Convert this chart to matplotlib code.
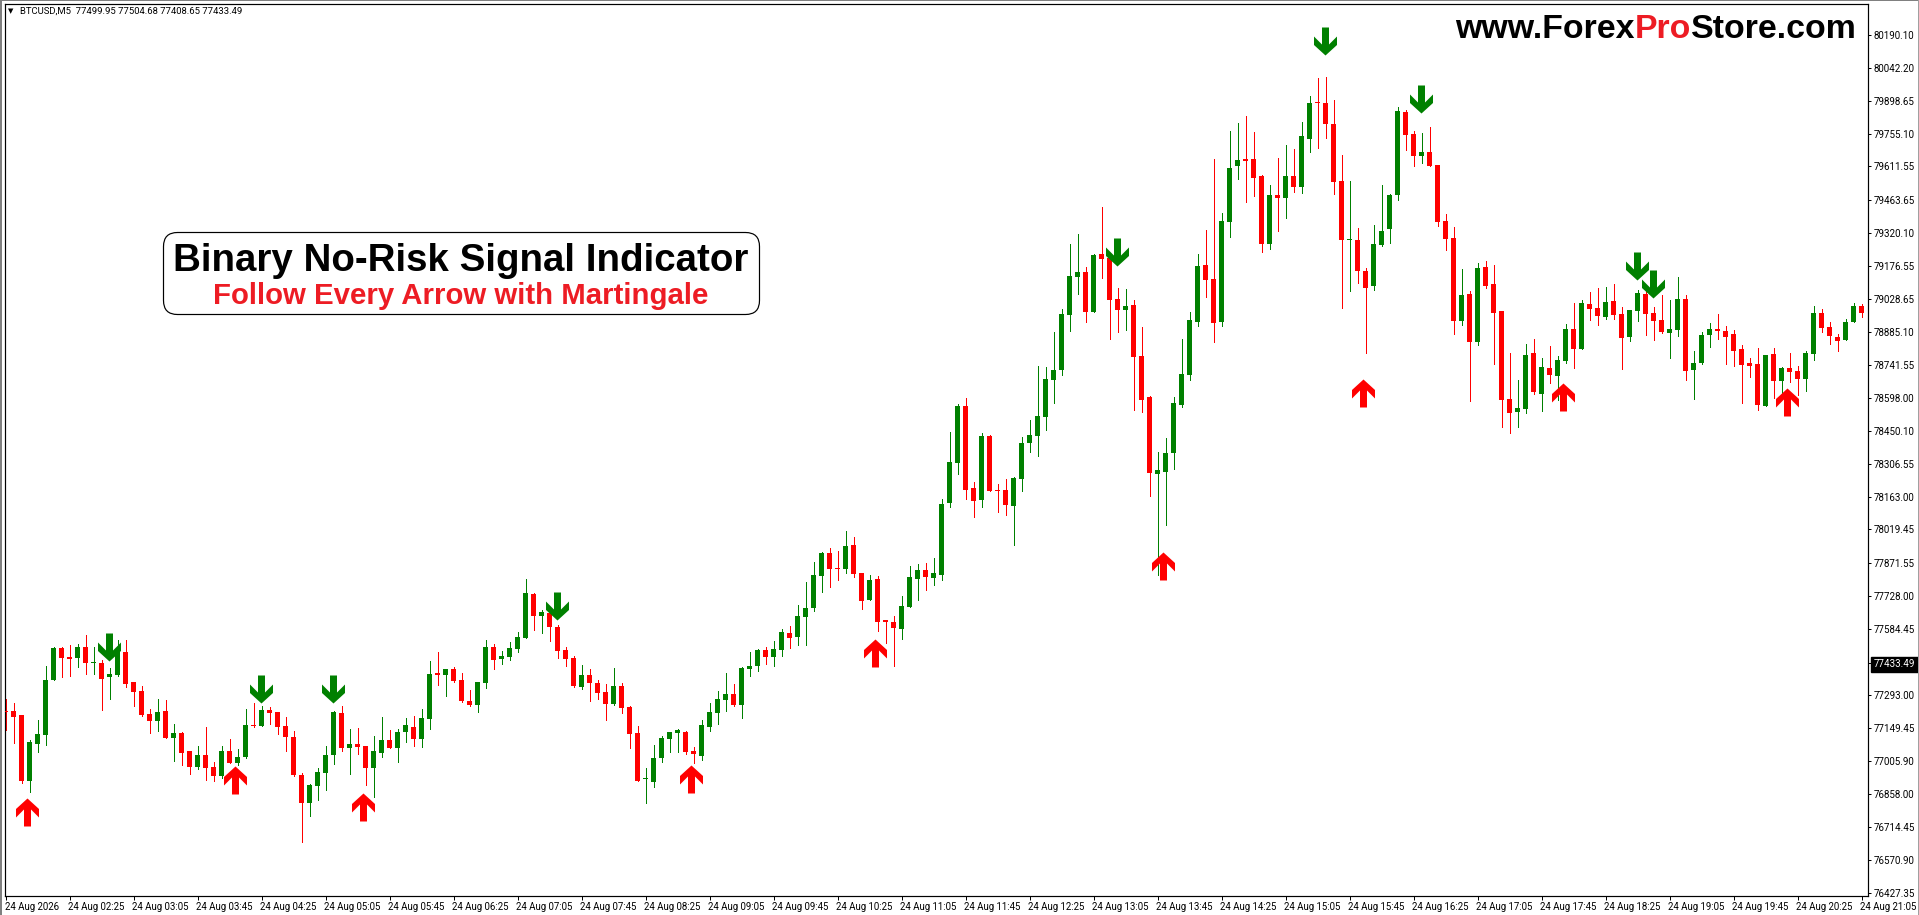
"""
BTCUSD M5 candles with buy / sell arrows - MT4 style screenshot
"""

import matplotlib
matplotlib.use('Agg')
import matplotlib.pyplot as plt
from matplotlib.patches import FancyBboxPatch, Rectangle
from matplotlib.transforms import Affine2D, ScaledTranslation

# candles, oldest first
opens = [
    77223, 77222, 77204, 76918, 77080, 77120, 77361, 77498, 77459, 77457,
    77503, 77435, 77432, 77374, 77383, 77481, 77349, 77310, 77209, 77181,
    77222, 77106, 77125, 77046, 76979, 77029, 76976, 76940, 77046, 76997,
    77023, 77160, 77159, 77226, 77217, 77156, 77108, 76941, 76821, 76896,
    76953, 77029, 77213, 77062, 77077, 77068, 76975, 77041, 77095, 77062,
    77133, 77152, 77102, 77190, 77389, 77383, 77406, 77358, 77266, 77251,
    77348, 77503, 77453, 77462, 77497, 77545, 77735, 77641, 77652, 77590,
    77489, 77454, 77330, 77380, 77345, 77305, 77255, 77332, 77239, 77125,
    76927, 76913, 77019, 77102, 77128, 77130, 77046, 77027, 77155, 77216,
    77273, 77296, 77251, 77409, 77422, 77489, 77462, 77492, 77564, 77549,
    77637, 77676, 77817, 77915, 77850, 77848, 77950, 77827, 77709, 77801,
    77621, 77612, 77581, 77681, 77804, 77842, 77808, 77821, 78137, 78312,
    78561, 78200, 78150, 78429, 78192, 78191, 78124, 78242, 78400, 78431,
    78514, 78676, 78720, 78961, 79128, 79147, 78975, 79226, 79210, 79029,
    78983, 79002, 78779, 78599, 78264, 78273, 78356, 78567, 78698, 78931,
    79178, 79116, 78931, 79369, 79615, 79643, 79643, 79568, 79273, 79485,
    79474, 79568, 79523, 79733, 79893, 79888, 79796, 79546, 79290, 79287,
    79151, 79089, 79267, 79339, 79488, 79849, 79752, 79659, 79673, 79616,
    79371, 79296, 78935, 79051, 78843, 79169, 79094, 78976, 78590, 78536,
    78549, 78792, 78615, 78726, 78694, 78760, 78897, 78812, 79007, 78989,
    78953, 79020, 78963, 78865, 78979, 79051, 78967, 78937, 78882, 78896,
    79029, 78720, 78751, 78871, 78897, 78888, 78875, 78809, 78748, 78744,
    78562, 78788, 78672, 78726, 78713, 78681, 78790, 78967, 78906, 78862,
    78852, 78929, 78998,
]
highs = [
    77274, 77257, 77206, 77095, 77182, 77419, 77503, 77503, 77511, 77516,
    77555, 77503, 77445, 77410, 77533, 77533, 77349, 77331, 77231, 77274,
    77270, 77165, 77130, 77046, 77068, 77152, 76998, 77068, 77099, 77055,
    77231, 77257, 77244, 77239, 77217, 77196, 77134, 76950, 76902, 76972,
    77068, 77222, 77244, 77143, 77147, 77068, 77112, 77196, 77139, 77143,
    77191, 77200, 77231, 77441, 77481, 77406, 77415, 77389, 77314, 77349,
    77533, 77516, 77485, 77524, 77568, 77801, 77739, 77665, 77674, 77599,
    77503, 77463, 77424, 77406, 77358, 77340, 77410, 77345, 77244, 77156,
    76972, 77073, 77112, 77130, 77143, 77134, 77064, 77182, 77257, 77310,
    77389, 77340, 77415, 77481, 77494, 77503, 77529, 77581, 77595, 77687,
    77788, 77875, 77919, 77937, 77924, 78011, 77985, 77827, 77818, 77814,
    77621, 77638, 77726, 77858, 77867, 77871, 77893, 78152, 78445, 78568,
    78595, 78226, 78441, 78435, 78217, 78239, 78248, 78423, 78499, 78735,
    78730, 78884, 78985, 79270, 79314, 79169, 79226, 79432, 79223, 79077,
    79073, 79024, 78906, 78603, 78358, 78419, 78599, 78853, 78972, 79226,
    79331, 79643, 79406, 79766, 79801, 79831, 79761, 79572, 79529, 79647,
    79704, 79686, 79805, 79919, 79998, 80002, 79901, 79660, 79546, 79340,
    79165, 79353, 79529, 79489, 79871, 79858, 79765, 79757, 79783, 79616,
    79401, 79344, 79160, 79064, 79186, 79195, 79178, 78976, 78792, 78673,
    78831, 78853, 78770, 78823, 78779, 78919, 79011, 79024, 79059, 79077,
    79081, 79094, 78994, 78980, 79068, 79077, 78994, 79046, 79024, 79125,
    79046, 78801, 78884, 78923, 78963, 78910, 78893, 78827, 78770, 78814,
    78783, 78814, 78730, 78792, 78735, 78801, 78998, 78985, 78928, 78875,
    78941, 79011, 79007,
]
lows = [
    77140, 77084, 76906, 76870, 77044, 77074, 77361, 77374, 77378, 77418,
    77387, 77387, 77229, 77277, 77378, 77330, 77247, 77203, 77128, 77137,
    77106, 77005, 76988, 76948, 76970, 76922, 76918, 76931, 76997, 76988,
    77019, 77155, 77159, 77168, 77124, 77049, 76940, 76650, 76764, 76834,
    76878, 76992, 77049, 76948, 77036, 76900, 76848, 77023, 77062, 77001,
    77089, 77071, 77067, 77146, 77339, 77291, 77352, 77261, 77247, 77220,
    77326, 77409, 77431, 77448, 77484, 77545, 77580, 77567, 77532, 77457,
    77422, 77330, 77321, 77269, 77277, 77185, 77251, 77216, 77063, 76918,
    76818, 76892, 77001, 77045, 77045, 77036, 76997, 77010, 77137, 77168,
    77225, 77247, 77194, 77378, 77400, 77431, 77422, 77466, 77501, 77514,
    77514, 77663, 77747, 77769, 77799, 77830, 77812, 77672, 77709, 77576,
    77523, 77422, 77541, 77681, 77712, 77755, 77777, 77799, 78119, 78264,
    78155, 78076, 78119, 78190, 78097, 78084, 77953, 78190, 78361, 78343,
    78457, 78575, 78698, 78891, 79053, 78931, 78975, 79124, 78856, 78887,
    78896, 78545, 78536, 78168, 77821, 78041, 78286, 78558, 78676, 78913,
    79040, 78843, 78913, 79304, 79556, 79457, 79483, 79238, 79251, 79330,
    79387, 79501, 79496, 79676, 79694, 79738, 79492, 78992, 79067, 79102,
    78795, 79071, 79264, 79277, 79466, 79685, 79615, 79628, 79615, 79352,
    79247, 78878, 78915, 78584, 78830, 79080, 78747, 78470, 78444, 78470,
    78532, 78615, 78540, 78663, 78587, 78748, 78729, 78812, 78939, 78918,
    78944, 78944, 78725, 78847, 78935, 78874, 78852, 78882, 78773, 78869,
    78676, 78593, 78747, 78821, 78856, 78747, 78738, 78575, 78690, 78545,
    78562, 78597, 78602, 78668, 78611, 78628, 78764, 78887, 78831, 78804,
    78852, 78928, 78953,
]
closes = [
    77219, 77198, 76918, 77086, 77121, 77358, 77498, 77457, 77453, 77503,
    77435, 77438, 77365, 77384, 77481, 77343, 77308, 77207, 77181, 77217,
    77106, 77125, 77041, 76979, 77029, 76975, 76940, 77046, 76997, 77020,
    77160, 77157, 77226, 77216, 77155, 77111, 76944, 76821, 76897, 76954,
    77029, 77217, 77062, 77077, 77067, 76975, 77046, 77095, 77062, 77130,
    77160, 77102, 77191, 77384, 77383, 77406, 77356, 77266, 77248, 77349,
    77503, 77448, 77463, 77498, 77546, 77739, 77641, 77656, 77593, 77488,
    77453, 77334, 77380, 77348, 77304, 77255, 77332, 77238, 77124, 76918,
    76930, 77016, 77103, 77130, 77139, 77045, 77036, 77160, 77217, 77274,
    77296, 77251, 77410, 77419, 77489, 77462, 77494, 77568, 77545, 77638,
    77674, 77818, 77915, 77848, 77848, 77945, 77826, 77707, 77796, 77615,
    77612, 77589, 77682, 77810, 77842, 77812, 77827, 78131, 78314, 78561,
    78194, 78146, 78428, 78190, 78190, 78128, 78244, 78397, 78432, 78516,
    78678, 78717, 78963, 79130, 79147, 78975, 79222, 79207, 79027, 78983,
    78998, 78777, 78589, 78269, 78279, 78353, 78573, 78700, 78937, 79173,
    79115, 78926, 79371, 79603, 79638, 79637, 79562, 79273, 79485, 79474,
    79568, 79523, 79743, 79888, 79888, 79799, 79545, 79290, 79293, 79154,
    79080, 79270, 79327, 79485, 79853, 79751, 79659, 79673, 79615, 79369,
    79295, 78935, 79046, 78843, 79165, 79089, 78970, 78589, 78532, 78551,
    78783, 78624, 78730, 78698, 78761, 78897, 78812, 79011, 78988, 78957,
    79016, 78961, 78861, 78980, 79055, 78966, 78935, 78887, 78897, 79029,
    78716, 78748, 78871, 78897, 78888, 78865, 78804, 78742, 78738, 78567,
    78783, 78672, 78726, 78711, 78681, 78792, 78967, 78904, 78866, 78847,
    78928, 78998, 78970,
]

# arrows: candle index and price of the tip
up_index = [3, 29, 45, 86, 109, 145, 170, 195, 223]
up_price = [76842, 76982, 76864, 76987, 77539, 77921, 78679, 78662, 78640]
down_index = [13, 32, 41, 69, 139, 165, 177, 204, 206]
down_price = [77444, 77258, 77258, 77622, 79175, 80099, 79846, 79114, 79035]

price_ticks = [
    80190.10, 80042.20, 79898.65, 79755.10, 79611.55, 79463.65, 79320.10,
    79176.55, 79028.65, 78885.10, 78741.55, 78598.00, 78450.10, 78306.55,
    78163.00, 78019.45, 77871.55, 77728.00, 77584.45, 77433.49, 77293.00,
    77149.45, 77005.90, 76858.00, 76714.45, 76570.90, 76427.35,
]
current_price = 77433.49

time_labels = [
    '24 Aug 2026', '24 Aug 02:25', '24 Aug 03:05', '24 Aug 03:45', '24 Aug 04:25',
    '24 Aug 05:05', '24 Aug 05:45', '24 Aug 06:25', '24 Aug 07:05', '24 Aug 07:45',
    '24 Aug 08:25', '24 Aug 09:05', '24 Aug 09:45', '24 Aug 10:25', '24 Aug 11:05',
    '24 Aug 11:45', '24 Aug 12:25', '24 Aug 13:05', '24 Aug 13:45', '24 Aug 14:25',
    '24 Aug 15:05', '24 Aug 15:45', '24 Aug 16:25', '24 Aug 17:05', '24 Aug 17:45',
    '24 Aug 18:25', '24 Aug 19:05', '24 Aug 19:45', '24 Aug 20:25', '24 Aug 21:05',
]

W, H = 1919, 915
GREEN = '#008000'
RED = '#FF0000'
TEXT_RED = '#ED1C24'
PX = 0.72  # one pixel in points at dpi 100

fig = plt.figure(figsize=(W / 100, H / 100), dpi=100, facecolor='white')
ax = fig.add_axes([4.5 / W, 1 - 895.5 / H, 1863 / W, 892 / H])
ax.set_facecolor('white')

# candles
x = list(range(len(opens)))
colors = [GREEN if c >= o else RED for o, c in zip(opens, closes)]
ax.vlines(x, lows, highs, colors=colors, linewidth=PX, antialiased=False, zorder=2)
ax.bar(x, [c - o for o, c in zip(opens, closes)], bottom=opens, width=0.625,
       color=colors, linewidth=0, antialiased=False, zorder=3)

# arrows, the tip is the marker origin
up_arrow = [(0, 0), (11.5, -10.5), (11.5, -19), (3.5, -11), (3.5, -28),
            (-3.5, -28), (-3.5, -11), (-11.5, -19), (-11.5, -10.5), (0, 0)]
down_arrow = [(px, -py) for px, py in up_arrow]
size = (56 * PX) ** 2
ax.scatter([i - 0.27 for i in up_index], up_price, marker=up_arrow, s=size,
           color=RED, linewidths=0, zorder=4)
ax.scatter([i - 0.1 for i in down_index], down_price, marker=down_arrow, s=size,
           color=GREEN, linewidths=0, zorder=4)

ax.set_xlim(-0.125, 232.75)
ax.set_ylim(76414.2, 80326.05)

# time axis, labels start one pixel left of the tick
ax.set_xticks(x[::8])
ax.set_xticklabels(time_labels, fontsize=6.9, family='Roboto', ha='left')
ax.tick_params(axis='x', length=4 * PX, width=PX, pad=2)
nudge = ScaledTranslation(-1 / 100, 0, fig.dpi_scale_trans)
for label in ax.get_xticklabels():
    label.set_transform(label.get_transform() + nudge)

# price axis
ax.yaxis.tick_right()
ax.set_yticks(price_ticks)
ax.set_yticklabels([f'{p:.2f}' for p in price_ticks], fontsize=7, family='Roboto')
ax.tick_params(axis='y', length=3 * PX, width=PX, pad=2.5)
for tick, p in zip(ax.get_yticklabels(), price_ticks):
    if p == current_price:
        tick.set_color('white')
        tick.set_bbox(dict(facecolor='black', edgecolor='black', pad=1.8))

for spine in ax.spines.values():
    spine.set_linewidth(PX * 1.2)

# grey window edge
fig.add_artist(Rectangle((0, 0), 1.5 / W, 1, color='#808080', lw=0))
fig.add_artist(Rectangle((0, 1 - 1.3 / H), 1, 1.3 / H, color='#808080', lw=0))
fig.add_artist(Rectangle((1 - 1.2 / W, 0), 1.2 / W, 1, color='#A0A0A0', lw=0))

# header line
fig.text(8 / W, 1 - 11.5 / H, '\u25bc', fontsize=5, family='DejaVu Sans', va='center')
fig.text(20 / W, 1 - 11.5 / H, 'BTCUSD,M5  77499.95 77504.68 77408.65 77433.49',
         fontsize=6.8, family='Roboto', va='center')

# banner, box given in image pixels with y pointing down
to_image = Affine2D().scale(1, -1).translate(0, H)
box = FancyBboxPatch((163.5 + 14, 232.5 + 14), 596 - 28, 82 - 28,
                     boxstyle='round,pad=14,rounding_size=14',
                     transform=to_image, facecolor='white', edgecolor='black',
                     linewidth=PX * 1.2, zorder=5)
fig.add_artist(box)
fig.text(461 / W, 1 - 271 / H, 'Binary No-Risk Signal Indicator', fontsize=27.7,
         family='Liberation Sans', weight='bold', ha='center', va='baseline', zorder=6)
fig.text(461 / W, 1 - 303.5 / H, 'Follow Every Arrow with Martingale', fontsize=21.2,
         family='Liberation Sans', weight='bold', color=TEXT_RED, ha='center',
         va='baseline', zorder=6)

# site name, three colours so placed piece by piece from the right
renderer = fig.canvas.get_renderer()
cursor = 1857
for piece, col in [('Store.com', 'black'), ('Pro', TEXT_RED), ('www.Forex', 'black')]:
    t = fig.text(cursor / W, 1 - 38.3 / H, piece, fontsize=24.4, family='Liberation Sans',
                 weight='bold', color=col, ha='right', va='baseline', zorder=6)
    cursor -= t.get_window_extent(renderer).width

plt.savefig('out.png', dpi=100)
